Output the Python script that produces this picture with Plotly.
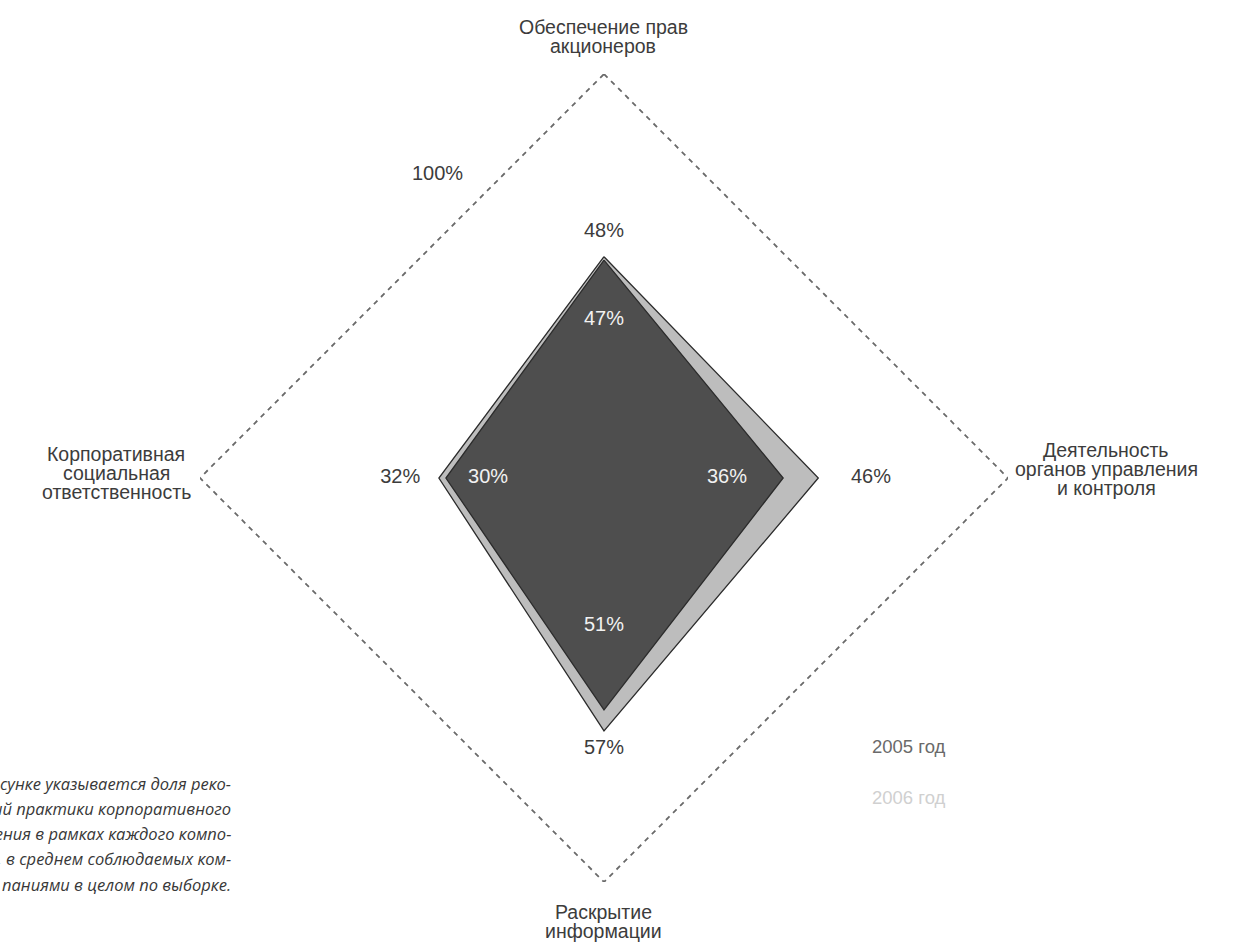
import plotly.graph_objects as go

# Components of corporate governance (clockwise from the top)
components = [
    "Обеспечение прав акционеров",
    "Деятельность органов управления и контроля",
    "Раскрытие информации",
    "Корпоративная социальная ответственность",
]
values_2005 = [47, 36, 51, 30]
values_2006 = [48, 46, 57, 32]
full_level = [100, 100, 100, 100]

W, H = 1247, 945
CX, CY, R = 604, 478, 404          # polar centre and radius, px
R_MIN, R_MAX = -15, 100            # radial axis range

TEXT = "#3c3c3c"
FONT = "Liberation Sans, Arial, sans-serif"


def px(x, y):
    """Pixel position -> paper coordinates."""
    return x / W, 1 - y / H


def closed(seq):
    return list(seq) + [seq[0]]


fig = go.Figure()

# 100% frame
fig.add_trace(go.Scatterpolar(
    r=closed(full_level), theta=closed(components), mode="lines",
    line=dict(color="#6a6a6a", width=1.8, dash="5px,5px"),
    hoverinfo="skip", showlegend=False,
))

# 2006
fig.add_trace(go.Scatterpolar(
    r=closed(values_2006), theta=closed(components), mode="lines",
    fill="toself", fillcolor="#bdbdbd",
    line=dict(color="#2b2b2b", width=1.3),
    name="2006 год", showlegend=False,
))

# 2005
fig.add_trace(go.Scatterpolar(
    r=closed(values_2005), theta=closed(components), mode="lines",
    fill="toself", fillcolor="#4e4e4e",
    line=dict(color="#2b2b2b", width=1.3),
    name="2005 год", showlegend=False,
))

# value labels: 2006 outside the polygon, 2005 inside it
out_pad = [7, 15, 5, 11]
in_pad = [17, 16, 24, 12]
fig.add_trace(go.Scatterpolar(
    r=[v + p for v, p in zip(values_2006, out_pad)], theta=components,
    mode="text", text=[f"{v}%" for v in values_2006],
    textfont=dict(family=FONT, size=20, color=TEXT),
    hoverinfo="skip", showlegend=False,
))
fig.add_trace(go.Scatterpolar(
    r=[v - p for v, p in zip(values_2005, in_pad)], theta=components,
    mode="text", text=[f"{v}%" for v in values_2005],
    textfont=dict(family=FONT, size=20, color="#f2f2f2"),
    hoverinfo="skip", showlegend=False,
))

annotations = []


def label(x, y, text, size=19.5, color=TEXT, family=FONT, xanchor="center"):
    ax, ay = px(x, y)
    annotations.append(dict(
        x=ax, y=ay, xref="paper", yref="paper", text=text, showarrow=False,
        xanchor=xanchor, yanchor="middle", align=xanchor if xanchor != "center" else "center",
        font=dict(family=family, size=size, color=color),
    ))


# axis titles, one line each
for i, line in enumerate(["Обеспечение прав", "акционеров"]):
    label(603, 27 + 19 * i, line)
for i, line in enumerate(["Деятельность", "органов управления", "и контроля"]):
    label(1106, 450 + 19 * i, line)
for i, line in enumerate(["Раскрытие", "информации"]):
    label(603, 912 + 19 * i, line)
for i, line in enumerate(["Корпоративная", "социальная", "ответственность"]):
    label(116, 454 + 19 * i, line)

label(437, 173, "100%", size=20)

# legend
label(870, 746, "2005 год", size=18.5, color="#6a6a6a", xanchor="left")
label(870, 797, "2006 год", size=18.5, color="#d0d0d0", xanchor="left")

# note, right-aligned
note_lines = [
    "На рисунке указывается доля реко-",
    "мендаций практики корпоративного",
    "управления в рамках каждого компо-",
    "нента, в среднем соблюдаемых ком-",
    "паниями в целом по выборке.",
]
for i, line in enumerate(note_lines):
    label(233, 783 + 25.3 * i, f"<i>{line}</i>", size=16.5, color="#383838",
          family="Open Sans, Noto Sans, sans-serif", xanchor="right")

fig.update_layout(
    width=W, height=H,
    margin=dict(l=0, r=0, t=0, b=0),
    paper_bgcolor="white",
    showlegend=False,
    polar=dict(
        domain=dict(x=[(CX - R) / W, (CX + R) / W], y=[1 - (CY + R) / H, 1 - (CY - R) / H]),
        bgcolor="white",
        angularaxis=dict(
            rotation=90, direction="clockwise", showline=False, showgrid=False,
            showticklabels=False, ticks="",
        ),
        radialaxis=dict(range=[R_MIN, R_MAX], visible=False, showgrid=False),
    ),
    annotations=annotations,
)

fig.write_html("out.html")
